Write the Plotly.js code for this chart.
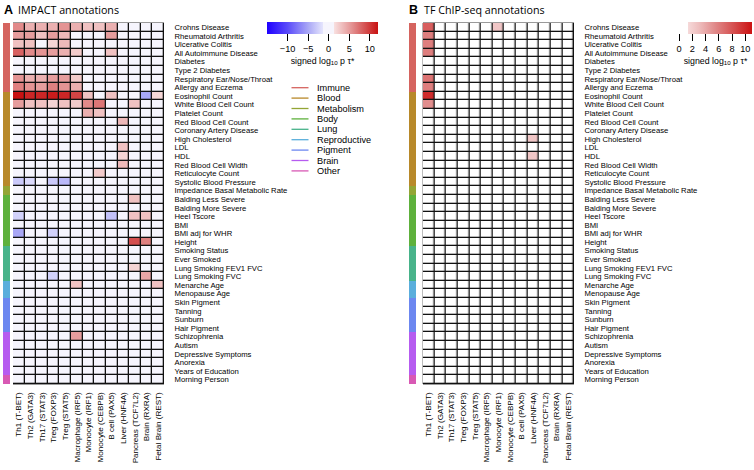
<!DOCTYPE html>
<html>
<head>
<meta charset="utf-8">
<script src="https://cdn.plot.ly/plotly-3.0.1.min.js"></script>
<style>html,body{margin:0;padding:0;background:#fff}#chart{width:754px;height:470px}</style>
</head>
<body>
<div id="chart"></div>
<script>
// ---------- data ----------
const columns = ['Th1 (T-BET)','Th2 (GATA3)','Th17 (STAT3)','Treg (FOXP3)','Treg (STAT5)','Macrophage (IRF5)','Monocyte (IRF1)','Monocyte (CEBPB)','B cell (PAX5)','Liver (HNF4A)','Pancreas (TCF7L2)','Brain (RXRA)','Fetal Brain (REST)'];

const traits = ['Crohns Disease','Rheumatoid Arthritis','Ulcerative Colitis','All Autoimmune Disease','Diabetes','Type 2 Diabetes','Respiratory Ear/Nose/Throat','Allergy and Eczema','Eosinophil Count','White Blood Cell Count','Platelet Count','Red Blood Cell Count','Coronary Artery Disease','High Cholesterol','LDL','HDL','Red Blood Cell Width','Reticulocyte Count','Systolic Blood Pressure','Impedance Basal Metabolic Rate','Balding Less Severe','Balding More Severe','Heel Tscore','BMI','BMI adj for WHR','Height','Smoking Status','Ever Smoked','Lung Smoking FEV1 FVC','Lung Smoking FVC','Menarche Age','Menopause Age','Skin Pigment','Tanning','Sunburn','Hair Pigment','Schizophrenia','Autism','Depressive Symptoms','Anorexia','Years of Education','Morning Person'];

const groups = ['Immune','Blood','Metabolism','Body','Lung','Reproductive','Pigment','Brain','Other'];
const traitGroup = [0,0,0,0,0,0,0,0, 1,1,1,1,1,1,1,1,1,1,1, 2, 3,3,3,3,3,3, 4,4,4,4, 5,5, 6,6,6,6, 7,7,7,7,7, 8];

// signed log10 p (tau*) — IMPACT annotations
const impactZ = [
  [6,4,4,4,5.5,4,3,3,4,0,0,0,0],
  [5,5,3,5,3.5,0,0,0,5,0,0,0,0],
  [3,3,0,2,3.5,0,0,0,0,0,0,0,0],
  [8,6,5.5,5,4,2.5,0,0,3,0,0,0,0],
  [0,0,0,0,0,0,0,0,0,0,0,0,0],
  [0,0,0,0,0,0,0,0,0,0,0,0,0],
  [5.5,4,4,5,5,2.5,0,0,0,0,0,0,0],
  [6.5,5.5,5,6.5,5.5,4,0,0,0,0,0,0,0],
  [12.5,11,11,11.5,11,9.5,3,0,3,0,0,-5,1.8],
  [5,3,3,2,3,2.5,6,7,0,0,3,0,0],
  [0,0,0,0,0,0,4,3,0,0,0,0,0],
  [0,0,0,0,0,0,0,0,0,3.5,0,0,0],
  [0,0,0,0,0,0,0,0,0,0,0,0,0],
  [0,0,0,0,0,0,0,0,0,0,0,0,0],
  [0,0,0,0,0,0,0,0,0,3,0,0,0],
  [0,0,0,0,0,0,0,0,0,2,0,0,0],
  [0,0,0,0,0,0,0,0,0,3.5,0,0,0],
  [0,0,0,0,0,0,0,2.5,0,0,0,0,0],
  [-3,-2,0,-3,-4,0,0,0,0,0,0,0,0],
  [0,0,0,0,0,0,0,0,0,0,0,0,0],
  [0,0,0,0,0,0,0,0,0,0,3,0,0],
  [0,0,0,0,0,0,0,0,0,0,0,0,0],
  [-2.5,0,0,0,0,0,0,0,-3.5,0,3,3,0],
  [0,0,0,0,0,0,0,0,0,0,0,0,0],
  [-5,0,0,-2.5,0,0,0,0,0,0,0,0,0],
  [0,0,0,0,0,0,0,0,0,0,9,6.5,0],
  [0,0,0,0,0,0,0,0,0,0,0,0,0],
  [0,0,0,0,0,0,0,0,0,0,0,0,0],
  [0,0,0,0,0,0,0,0,0,0,2,0,0],
  [0,0,0,-2.5,0,0,0,0,0,0,0,4.5,0],
  [0,0,0,0,0,3,0,0,0,0,0,0,3],
  [0,0,0,0,0,0,0,0,0,0,0,0,0],
  [0,0,0,0,0,0,0,0,0,0,0,0,0],
  [0,0,0,0,0,0,0,0,0,0,0,0,0],
  [0,0,0,0,0,0,0,0,0,0,0,0,0],
  [0,0,0,0,0,0,0,0,0,0,0,0,0],
  [0,0,0,0,0,5,0,0,0,0,0,0,0],
  [0,0,0,0,0,0,0,0,0,0,0,0,0],
  [0,0,0,0,0,0,0,0,0,0,0,0,0],
  [0,0,0,0,0,0,0,0,0,0,0,0,0],
  [0,0,0,0,0,0,0,0,0,0,0,0,0],
  [0,0,0,0,0,0,0,0,0,0,0,0,0]
];

// signed log10 p (tau*) — TF ChIP-seq annotations (sparse: [row, col, value])
const chipCells = [
  [0,0,7.5],[0,6,2.5],[1,0,6],[2,0,6],[3,0,6],[6,0,6.5],[7,0,6],[8,0,9.8],[9,0,5.2],[13,9,2.5],[15,9,2.5]
];

const impactTicks = [-10,-5,0,5,10];
const chipTicks = [0,2,4,6,8,10];

// ---------- styles ----------
const groupColors = ['#D5645F','#B8892A','#93A535','#5EB13C','#48B38A','#5AAEDC','#6C87F0','#B65CF0','#D859B4'];
const W = 754, H = 470;
const px = v => v / W, py = v => 1 - v / H;
const FONT = 'Liberation Sans, Arial, sans-serif';

function scale(stops, zmin, zmax) {
  return stops.map(s => [(s[0] - zmin) / (zmax - zmin), s[1]]);
}
const aMin = -15, aMax = 12;
const scaleA = scale([[-15,'#1E00FF'],[-10,'#5A4BFA'],[-5,'#A9A7F6'],[-1.31,'#E6E6FD'],[-1.3,'#F6F5FD'],[1.3,'#F6F5FD'],[1.31,'#F8E0E0'],[3,'#F0C2C2'],[5.5,'#E49494'],[8,'#D86262'],[10,'#D03A3A'],[12,'#C81212']], aMin, aMax);
const bMin = 0, bMax = 11;
const scaleB = scale([[0,'#FFFFFF'],[1.3,'#FFFFFF'],[1.31,'#F6DADA'],[3,'#EEBEBE'],[5.5,'#E08888'],[8,'#D65454'],[11,'#CC1212']], bMin, bMax);

const chipZ = traits.map(() => columns.map(() => 0));
chipCells.forEach(c => { chipZ[c[0]][c[1]] = c[2]; });

const nG = groups.length;
const stripScale = [];
groupColors.forEach((c, k) => { stripScale.push([k / nG, c]); stripScale.push([(k + 1) / nG, c]); });
const stripZ = traitGroup.map(g => [g + 0.5]);

const cbTitle = {text: 'signed log<sub>10</sub> p τ*', side: 'bottom', font: {family: FONT, size: 8.8, color: '#000'}};
const cbCommon = {orientation: 'h', thickness: 12, thicknessmode: 'pixels', lenmode: 'pixels', xanchor: 'center', yanchor: 'top', y: py(22), xpad: 0, ypad: 0, outlinewidth: 0, ticks: 'outside', ticklen: 7, tickcolor: '#000', tickfont: {family: FONT, size: 9.2, color: '#000'}, title: cbTitle};

const traces = [
  {type: 'heatmap', x: columns, y: traits, z: impactZ, xaxis: 'x', yaxis: 'y', colorscale: scaleA, zmin: aMin, zmax: aMax, xgap: 1.3, ygap: 1.3, hoverinfo: 'skip',
   colorbar: Object.assign({}, cbCommon, {x: px(322.5), len: 111, tickvals: impactTicks, ticktext: impactTicks.map(v => v < 0 ? '\u2212' + Math.abs(v) : String(v))})},
  {type: 'heatmap', x: columns, y: traits, z: chipZ, xaxis: 'x2', yaxis: 'y2', colorscale: scaleB, zmin: bMin, zmax: bMax, xgap: 1.3, ygap: 1.3, hoverinfo: 'skip',
   colorbar: Object.assign({}, cbCommon, {x: px(715.5), len: 73, tickvals: chipTicks})},
  {type: 'heatmap', x: ['g'], y: traits, z: stripZ, xaxis: 'x3', yaxis: 'y', colorscale: stripScale, zmin: 0, zmax: nG, showscale: false, hoverinfo: 'skip'},
  {type: 'heatmap', x: ['g'], y: traits, z: stripZ, xaxis: 'x4', yaxis: 'y2', colorscale: stripScale, zmin: 0, zmax: nG, showscale: false, hoverinfo: 'skip'}
];

const yDomain = [py(384), py(23)];
const xAx = d => ({domain: d, type: 'category', showgrid: false, zeroline: false, showline: true, mirror: true, linecolor: '#9a9a9a', linewidth: 1, ticks: 'outside', ticklen: 4, tickcolor: 'rgba(0,0,0,0)', tickmode: 'array', tickvals: columns, ticktext: columns, tickangle: -90, tickfont: {family: FONT, size: 8.1, color: '#000'}, fixedrange: true});
const yAx = (anchor) => ({domain: yDomain, anchor: anchor, type: 'category', autorange: 'reversed', side: 'right', showgrid: false, zeroline: false, showline: false, ticks: 'outside', ticklen: 8, tickcolor: 'rgba(0,0,0,0)', tickmode: 'array', tickvals: traits, ticktext: traits, tickfont: {family: FONT, size: 7.7, color: '#000'}, fixedrange: true});
const stripAx = (d, anchor) => ({domain: d, anchor: anchor, showticklabels: false, showgrid: false, zeroline: false, ticks: '', fixedrange: true});

const shapes = [], annotations = [];
groups.forEach((g, i) => {
  const yy = py(87.7 + 10.4 * i);
  shapes.push({type: 'line', xref: 'paper', yref: 'paper', x0: px(291.5), x1: px(308.5), y0: yy, y1: yy, line: {color: groupColors[i], width: 1.3}});
  annotations.push({xref: 'paper', yref: 'paper', x: px(314.5), y: yy, xanchor: 'left', yanchor: 'middle', showarrow: false, text: g, font: {family: FONT, size: 9.2, color: '#000'}});
});
annotations.push({xref: 'paper', yref: 'paper', x: px(2), y: py(10), xanchor: 'left', yanchor: 'middle', showarrow: false, text: '<b>A</b>', font: {family: FONT, size: 12.5, color: '#000'}});
annotations.push({xref: 'paper', yref: 'paper', x: px(15.5), y: py(10), xanchor: 'left', yanchor: 'middle', showarrow: false, text: 'IMPACT annotations', font: {family: 'Open Sans, sans-serif', size: 10.7, color: '#000'}});
annotations.push({xref: 'paper', yref: 'paper', x: px(407), y: py(10), xanchor: 'left', yanchor: 'middle', showarrow: false, text: '<b>B</b>', font: {family: FONT, size: 12.5, color: '#000'}});
annotations.push({xref: 'paper', yref: 'paper', x: px(422), y: py(10), xanchor: 'left', yanchor: 'middle', showarrow: false, text: 'TF ChIP-seq annotations', font: {family: 'Open Sans, sans-serif', size: 10.7, color: '#000'}});

const layout = {
  width: W, height: H, margin: {l: 0, r: 0, t: 0, b: 0}, paper_bgcolor: '#fff', plot_bgcolor: '#111',
  showlegend: false,
  xaxis: Object.assign(xAx([px(13), px(164)]), {anchor: 'y'}),
  xaxis2: Object.assign(xAx([px(422.7), px(574)]), {anchor: 'y2'}),
  xaxis3: stripAx([px(3), px(10)], 'y'),
  xaxis4: stripAx([px(409), px(416)], 'y2'),
  yaxis: yAx('x'),
  yaxis2: yAx('x2'),
  shapes: shapes, annotations: annotations
};

Plotly.newPlot('chart', traces, layout, {displayModeBar: false, staticPlot: true});
</script>
</body>
</html>
